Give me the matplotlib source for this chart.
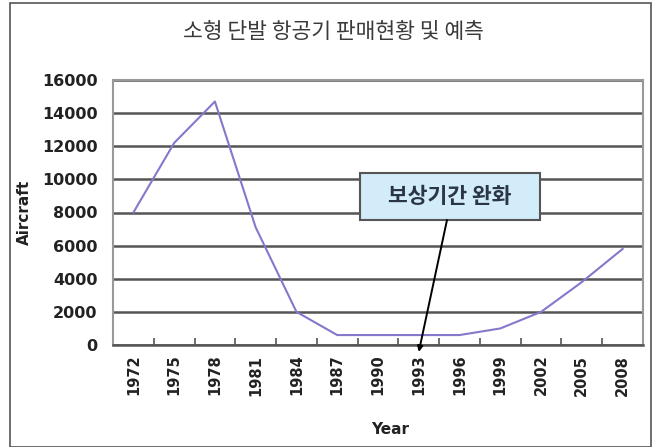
import matplotlib
matplotlib.use("Agg")
import matplotlib.pyplot as plt
from matplotlib.patches import Rectangle
import numpy as np

years = ["1972", "1975", "1978", "1981", "1984", "1987", "1990",
         "1993", "1996", "1999", "2002", "2005", "2008"]
aircraft = [8000, 12200, 14700, 7100, 2000, 600, 600, 600, 600, 1000, 2000, 3800, 5800]
y_ticks = [0, 2000, 4000, 6000, 8000, 10000, 12000, 14000, 16000]
title = "소형 단발 항공기 판매현황 및 예측"
note = "보상기간 완화"
note_year = "1993"

W, H = 661, 447
fig = plt.figure(figsize=(W / 100, H / 100), dpi=100)
fig.patch.set_facecolor("white")

# outer frame
fig.patches.append(Rectangle((10 / W, 0), 641 / W, 444 / H, transform=fig.transFigure,
                             fill=False, edgecolor="#555555", linewidth=1.2))

ax = fig.add_axes([113 / W, 1 - 345 / H, 530 / W, 265 / H])
x = np.arange(len(years))
ax.plot(x, aircraft, color="#8478cc", linewidth=1.5, zorder=3)

ax.set_xlim(-0.5, len(years) - 0.5)
ax.set_ylim(0, 16000)
ax.set_yticks(y_ticks)
ax.set_yticklabels([str(v) for v in y_ticks], fontsize=11.5, fontweight="bold",
                   family="DejaVu Sans", color="#222222")
ax.tick_params(axis="y", length=0, pad=11)
ax.grid(axis="y", color="#555555", linewidth=1.8, zorder=1)

ax.set_xticks(x)
ax.set_xticklabels(years, rotation=90, fontsize=10.5, fontweight="bold",
                   family="DejaVu Sans", color="#222222")
ax.tick_params(axis="x", which="major", length=0, pad=7)
ax.set_xticks(np.arange(0.5, len(years) - 0.5, 1), minor=True)
ax.tick_params(axis="x", which="minor", direction="in", length=5, width=1.2, color="#555555")

for side in ["top", "right", "left"]:
    ax.spines[side].set_color("#999999")
    ax.spines[side].set_linewidth(1.5)
ax.spines["bottom"].set_color("#555555")
ax.spines["bottom"].set_linewidth(1.8)

ax.set_ylabel("Aircraft", fontsize=11, fontweight="bold", family="DejaVu Sans",
              color="#222222")
ax.yaxis.set_label_coords(-0.168, 0.5)
ax.set_xlabel("Year", fontsize=11, fontweight="bold", family="DejaVu Sans",
              color="#222222")
ax.xaxis.set_label_coords(0.52, -0.32)
ax.yaxis.label.set_position((0, 0.5))
fig.canvas.draw()
ax.yaxis.set_label_coords((24 - 113) / 530, 0.5)
ax.xaxis.set_label_coords((390 - 113) / 530, (345 - 430) / 265)
ax.xaxis.label.set_va("center")
ax.yaxis.label.set_va("center")

fig.text(333 / W, 1 - 32 / H, title, ha="center", va="center", fontsize=15.5,
         family=["Noto Sans CJK KR", "DejaVu Sans"], color="#3a3a3a")

# annotation box (axes-fraction geometry)
bx0, bx1 = (360 - 113) / 530, (540 - 113) / 530
by0, by1 = (345 - 220) / 265, (345 - 173) / 265
ax.add_patch(Rectangle((bx0, by0), bx1 - bx0, by1 - by0, transform=ax.transAxes,
                       facecolor="#d2ecfa", edgecolor="#555555", linewidth=1.5, zorder=5))
ax.text((bx0 + bx1) / 2, (by0 + by1) / 2, note, transform=ax.transAxes,
        ha="center", va="center", fontsize=15.5, fontweight="bold",
        family=["Noto Sans CJK KR", "DejaVu Sans"], color="#2a3548", zorder=6)

xi = years.index(note_year)
ax.annotate("", xy=(xi, -420), xycoords="data",
            xytext=((447 - 113) / 530, by0), textcoords="axes fraction",
            arrowprops=dict(arrowstyle="-|>", color="black", lw=1.4,
                            mutation_scale=8, shrinkA=0, shrinkB=0),
            annotation_clip=False, zorder=5)

fig.savefig("out.png", dpi=100, facecolor="white")
